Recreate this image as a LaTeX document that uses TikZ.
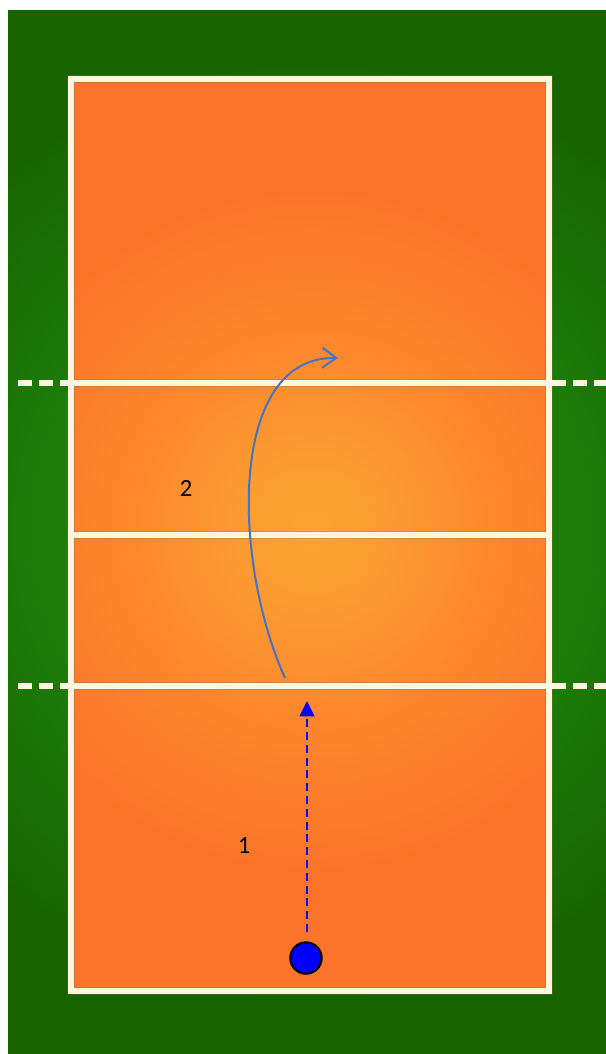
\documentclass[tikz,border=0pt]{standalone}
\usepackage{fontspec}
\setmainfont{Carlito}
\usetikzlibrary{arrows.meta}
\definecolor{lineC}{HTML}{FFF6E0}
\definecolor{haloC}{HTML}{8A6A40}
\definecolor{curveC}{HTML}{4472C4}
\definecolor{ballC}{HTML}{0000FF}
\definecolor{orC0}{HTML}{FAA532}
\definecolor{orC1}{HTML}{FB9A30}
\definecolor{orC2}{HTML}{FD852D}
\definecolor{orC3}{HTML}{FB7429}
\definecolor{grC0}{HTML}{1C7C08}
\definecolor{grC1}{HTML}{186400}
\pgfdeclareradialshading{courtshade}{\pgfpointorigin}{
  color(0bp)=(orC0);color(3bp)=(orC1);color(7bp)=(orC2);color(12.5bp)=(orC3);color(50bp)=(orC3)}
\pgfdeclareradialshading{grassshade}{\pgfpointorigin}{
  color(0bp)=(grC0);color(10bp)=(grC0);color(17bp)=(grC1);color(50bp)=(grC1)}
\tikzset{
  x=0.75pt,y=-0.75pt,
  courtline/.style={draw=lineC,line width=4.2pt},
  halo/.style={draw=haloC,opacity=0.3,line width=6pt},
  dashline/.style={draw=lineC,line width=3.8pt,dash pattern=on 10.5pt off 5.2pt},
  pathcurve/.style={draw=curveC,line width=1.5pt,-{Straight Barb[length=10.5pt,width=15pt,line width=1.5pt]}},
  patharrow/.style={draw=ballC,line width=1.5pt,dash pattern=on 6pt off 3.6pt,-{Triangle[length=11.5pt,width=11pt,fill=ballC]}},
  ballnode/.style={circle,draw=black,fill=ballC,line width=1.6pt,minimum size=23.5pt,inner sep=0pt},
  numlabel/.style={font=\fontsize{18.5pt}{20pt}\selectfont,text=black,inner sep=0pt}
}
\begin{document}
\begin{tikzpicture}
\useasboundingbox (0,0) rectangle (606,1054);
\fill[white] (0,0) rectangle (606,1054);
\begin{scope}
  \clip (8,10) rectangle (606,1054);
  \shade[shading=grassshade] (312,530) circle[radius=700];
\end{scope}
\begin{scope}
  \clip (71,79) rectangle (549,991);
  \shade[shading=courtshade] (312,530) circle[radius=700];
\end{scope}
\coordinate (midL) at (71,535);
\coordinate (midR) at (549,535);
\coordinate (netAL) at (18,383);
\coordinate (netAR) at (606,383);
\coordinate (netBL) at (18,686);
\coordinate (netBR) at (606,686);
\coordinate (inAL) at (71,383);
\coordinate (inAR) at (549,383);
\coordinate (inBL) at (71,686);
\coordinate (inBR) at (549,686);
\draw[halo] (71,79) rectangle (549,991);
\draw[halo] (midL) -- (midR);
\draw[halo] (inAL) -- (inAR);
\draw[halo] (inBL) -- (inBR);
\draw[courtline] (71,79) rectangle (549,991);
\draw[courtline] (midL) -- (midR);
\draw[courtline] (inAL) -- (inAR);
\draw[courtline] (inBL) -- (inBR);
\draw[dashline] (netAL) -- (inAL);
\draw[dashline] (netBL) -- (inBL);
\draw[dashline] (inAR) ++(3,0) -- (netAR);
\draw[dashline] (inBR) ++(3,0) -- (netBR);
\coordinate (curveS) at (285,678);
\coordinate (curveE) at (338,358);
\draw[pathcurve] (curveS) .. controls (232,560) and (228,356) .. (curveE);
\node[ballnode] (ball) at (306,958) {};
\coordinate (dashS) at (307,932);
\coordinate (dashE) at (307,701);
\draw[patharrow] (dashS) -- (dashE);
\node[numlabel] (one) at (244,846) {1};
\node[numlabel] (two) at (186,488) {2};
\end{tikzpicture}
\end{document}
